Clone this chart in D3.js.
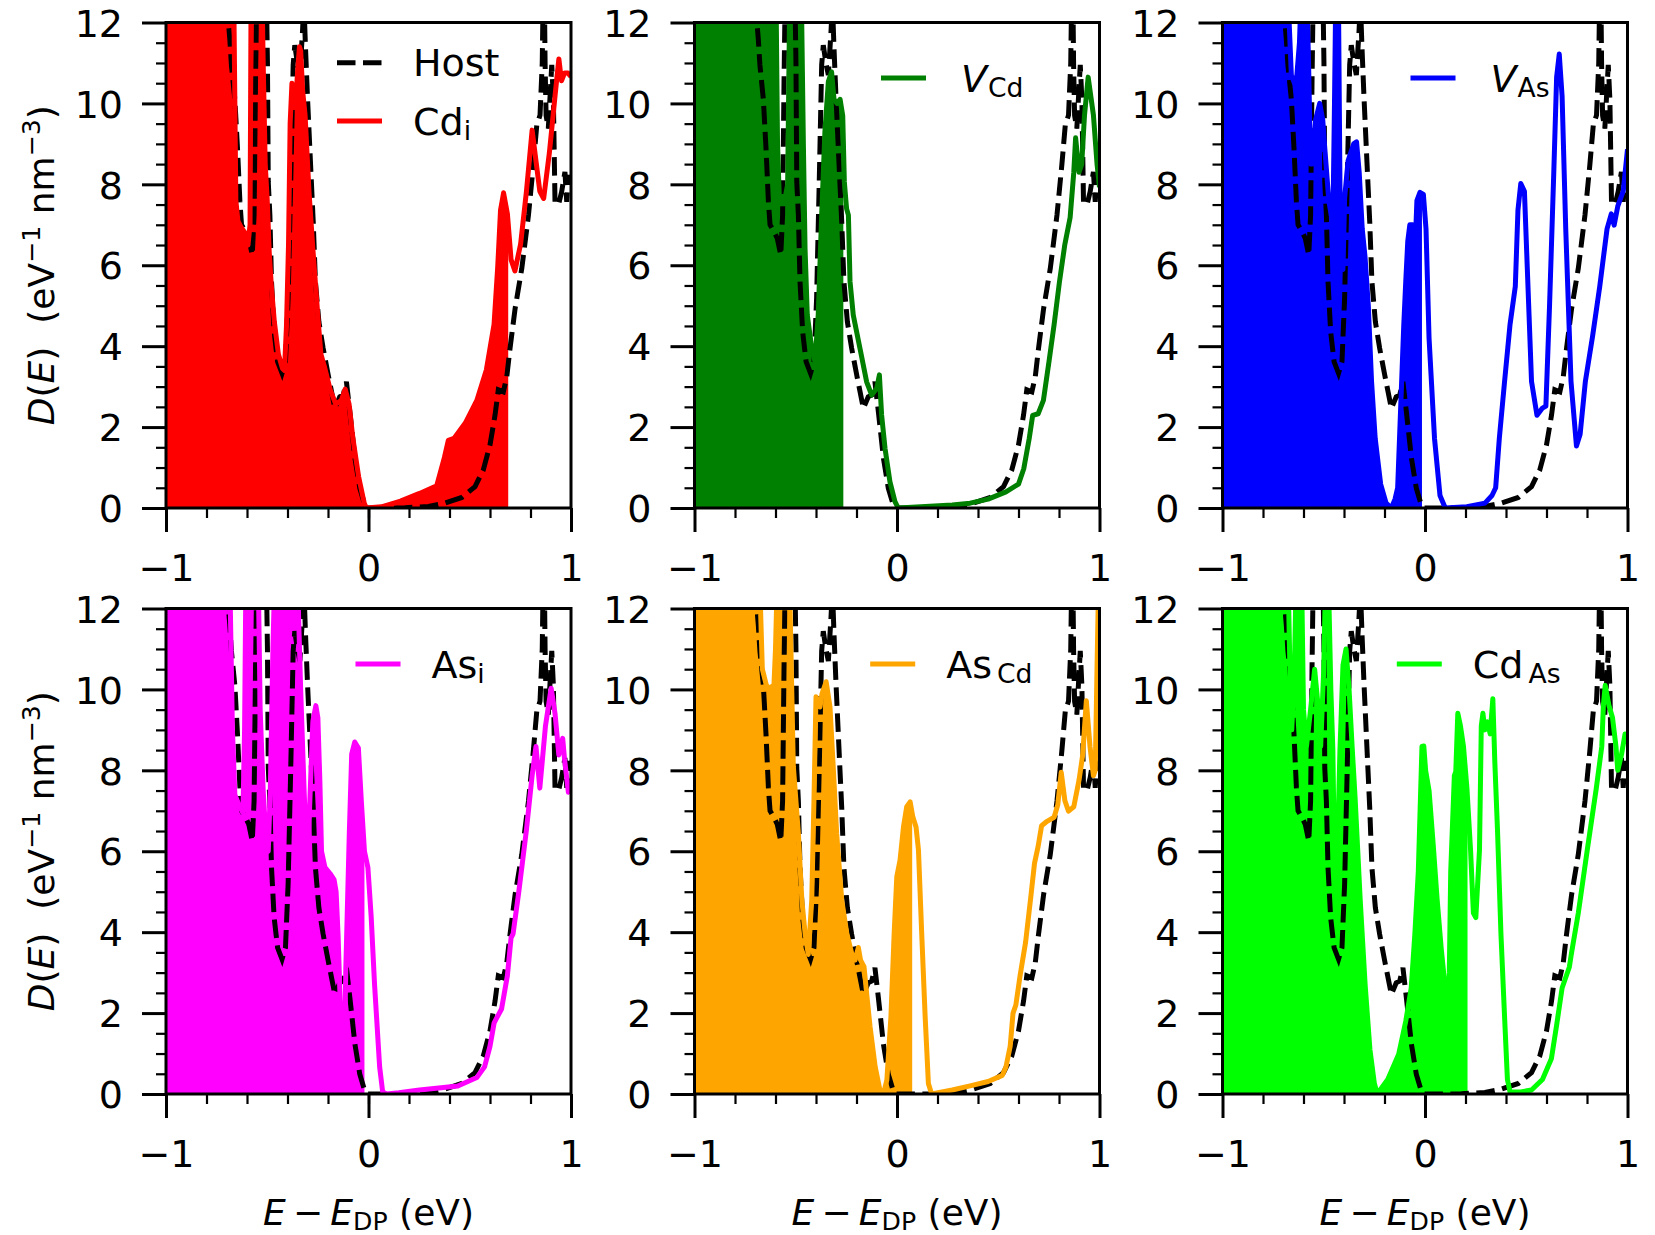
<!DOCTYPE html>
<html>
<head>
<meta charset="utf-8">
<script src="https://cdn.jsdelivr.net/npm/d3@7"></script>
<style>
  body { margin: 0; background: #fff; }
  text { font-family: "DejaVu Sans", sans-serif; fill: #000; }
</style>
</head>
<body>
<script>
// ---- data: [E - E_DP (eV), D(E) (eV^-1 nm^-3)] ----
// (values above 12 sit outside the plotted window and are clipped)
const hostDos = [[-1,22],[-0.75,16],[-0.71,13],[-0.695,12.2],[-0.685,11.6],[-0.677,10.95],[-0.66,10.1],[-0.647,8.9],[-0.635,7.57],[-0.627,7.0],[-0.603,6.79],[-0.591,6.66],[-0.574,6.25],[-0.565,7.24],[-0.558,10.5],[-0.55,13.5],[-0.53,14],[-0.505,13],[-0.499,11],[-0.495,8.06],[-0.487,7.24],[-0.479,5.6],[-0.466,4.36],[-0.449,3.62],[-0.427,3.33],[-0.41,3.62],[-0.397,5.18],[-0.384,8.06],[-0.372,10.95],[-0.364,11.44],[-0.352,11.03],[-0.339,10.7],[-0.326,11.77],[-0.319,12.5],[-0.311,11.36],[-0.301,10.12],[-0.286,8.48],[-0.273,7.08],[-0.262,5.59],[-0.245,4.6],[-0.224,3.95],[-0.199,3.29],[-0.166,2.46],[-0.142,2.75],[-0.125,2.79],[-0.109,3.12],[-0.092,2.38],[-0.067,1.23],[-0.043,0.49],[-0.021,0.12],[-0.002,0],[0.1,0],[0.18,0.005],[0.296,0.04],[0.378,0.12],[0.461,0.26],[0.526,0.53],[0.567,0.94],[0.6,1.56],[0.625,2.3],[0.641,2.92],[0.666,2.87],[0.683,3.25],[0.699,3.95],[0.724,4.93],[0.757,5.92],[0.79,7.24],[0.814,8.48],[0.831,9.46],[0.847,9.71],[0.858,11],[0.866,14],[0.872,11],[0.877,9.7],[0.888,9.38],[0.905,10.95],[0.913,10.1],[0.921,7.57],[0.938,7.49],[0.954,7.82],[0.97,8.31],[0.979,7.57],[0.987,8.23],[1.0,7.9]];

const cdiDos = [[-1,22],[-0.68,15],[-0.665,12.5],[-0.655,7.6],[-0.645,7.1],[-0.63,6.95],[-0.61,6.8],[-0.595,6.5],[-0.585,7.0],[-0.58,12.5],[-0.575,14],[-0.54,14],[-0.525,12.5],[-0.52,11.0],[-0.51,8.5],[-0.5,7.6],[-0.49,6.3],[-0.48,5.5],[-0.465,4.6],[-0.445,3.8],[-0.425,3.45],[-0.415,3.4],[-0.405,4.5],[-0.395,6.5],[-0.387,9.5],[-0.378,10.5],[-0.37,10.3],[-0.36,10.0],[-0.35,10.8],[-0.341,11.4],[-0.335,11.3],[-0.325,10.3],[-0.313,9.7],[-0.294,7.83],[-0.275,6.42],[-0.247,4.54],[-0.235,3.8],[-0.218,3.5],[-0.19,2.94],[-0.162,2.57],[-0.134,2.66],[-0.115,2.94],[-0.096,2.57],[-0.077,1.72],[-0.049,0.78],[-0.021,0.12],[-0.011,0],[0.064,0.03],[0.158,0.17],[0.252,0.36],[0.337,0.55],[0.375,1.25],[0.394,1.67],[0.422,1.72],[0.478,2.1],[0.535,2.66],[0.582,3.41],[0.62,4.54],[0.638,5.95],[0.652,7.36],[0.667,7.79],[0.686,7.27],[0.704,6.14],[0.723,5.86],[0.751,6.52],[0.78,7.83],[0.808,9.34],[0.827,8.58],[0.846,7.83],[0.865,7.65],[0.893,8.77],[0.921,10.18],[0.94,11.1],[0.953,10.56],[0.968,10.75],[0.985,10.75],[1.0,10.66]];

const vcdDos = [[-1,22],[-0.7,16],[-0.6,13],[-0.597,12.5],[-0.59,9],[-0.581,7.65],[-0.565,7.7],[-0.553,7.65],[-0.54,8.0],[-0.53,12.5],[-0.528,13],[-0.475,13],[-0.471,12.2],[-0.462,8.9],[-0.454,6.4],[-0.443,4.77],[-0.421,3.95],[-0.405,3.62],[-0.389,4.77],[-0.372,7.24],[-0.356,9.3],[-0.339,10.54],[-0.323,10.78],[-0.311,10.1],[-0.296,10.0],[-0.281,10.1],[-0.268,9.7],[-0.26,8.06],[-0.249,7.4],[-0.24,7.24],[-0.232,5.6],[-0.216,4.77],[-0.183,3.95],[-0.15,3.12],[-0.125,2.79],[-0.1,2.96],[-0.087,3.29],[-0.076,2.3],[-0.059,1.47],[-0.035,0.65],[-0.01,0.16],[0.006,0],[0.185,0.05],[0.273,0.075],[0.361,0.12],[0.45,0.22],[0.538,0.4],[0.6,0.59],[0.626,0.97],[0.653,1.72],[0.67,2.29],[0.697,2.33],[0.723,2.66],[0.75,3.6],[0.776,4.54],[0.802,5.58],[0.829,6.52],[0.855,7.18],[0.873,8.3],[0.882,9.15],[0.899,8.3],[0.912,8.49],[0.926,9.71],[0.944,10.65],[0.97,9.71],[0.988,8.49],[1.0,7.93]];

const vasDos = [[-1,22],[-0.72,18],[-0.7,14],[-0.675,12.5],[-0.66,10.7],[-0.645,10.5],[-0.635,10.56],[-0.62,11.5],[-0.61,13],[-0.585,13],[-0.575,11],[-0.565,8.5],[-0.556,8.5],[-0.54,9.6],[-0.52,10.0],[-0.505,9.6],[-0.495,8.9],[-0.475,7.6],[-0.455,7.0],[-0.447,10],[-0.44,13],[-0.428,13],[-0.42,8],[-0.414,5.95],[-0.405,5.9],[-0.397,7.65],[-0.38,8.58],[-0.352,9.0],[-0.338,9.05],[-0.325,8.3],[-0.31,6.9],[-0.296,6.2],[-0.28,5.0],[-0.264,3.13],[-0.246,1.72],[-0.219,0.59],[-0.192,0.12],[-0.166,0],[-0.148,0.22],[-0.135,0.5],[-0.12,2.5],[-0.105,4.5],[-0.095,5.6],[-0.085,6.6],[-0.075,7.0],[-0.06,7.0],[-0.052,6.0],[-0.04,7.6],[-0.025,7.8],[-0.008,7.75],[0.005,6.9],[0.02,4.2],[0.047,1.72],[0.074,0.31],[0.1,0],[0.207,0.03],[0.296,0.12],[0.331,0.31],[0.349,0.5],[0.367,1.72],[0.393,3.13],[0.42,4.54],[0.446,5.48],[0.459,7.36],[0.473,8.02],[0.491,7.83],[0.505,5.95],[0.526,3.13],[0.553,2.29],[0.58,2.47],[0.597,2.52],[0.615,5.0],[0.636,8.3],[0.65,10.65],[0.663,11.22],[0.677,10.18],[0.695,6.9],[0.721,3.13],[0.748,1.53],[0.766,1.82],[0.792,3.13],[0.828,4.26],[0.863,5.48],[0.899,6.9],[0.92,7.27],[0.934,6.99],[0.952,7.46],[0.979,7.83],[1.0,8.87]];

const asiDos = [[-1,22],[-0.7,15],[-0.684,12.5],[-0.672,9.0],[-0.66,7.4],[-0.643,7.18],[-0.62,6.95],[-0.612,9],[-0.605,13],[-0.545,13],[-0.535,9.5],[-0.52,7.5],[-0.505,6.2],[-0.495,6.0],[-0.485,7.5],[-0.472,11],[-0.462,13],[-0.352,13],[-0.335,10],[-0.318,7.5],[-0.302,5.5],[-0.29,7.2],[-0.275,9.2],[-0.26,9.6],[-0.25,9.3],[-0.24,7.7],[-0.232,6.0],[-0.215,5.6],[-0.19,5.45],[-0.17,5.3],[-0.16,5.0],[-0.15,3.9],[-0.14,2.3],[-0.128,0.7],[-0.12,0.8],[-0.112,3.1],[-0.095,6.4],[-0.083,8.4],[-0.068,8.7],[-0.05,8.55],[-0.035,7.2],[-0.02,6.0],[-0.003,5.6],[0.013,4.4],[0.03,2.7],[0.055,0.67],[0.07,0.05],[0.09,0],[0.15,0.03],[0.252,0.1],[0.441,0.2],[0.535,0.41],[0.573,0.67],[0.6,1.18],[0.62,1.75],[0.63,1.85],[0.657,2.1],[0.686,2.93],[0.704,3.86],[0.714,3.96],[0.742,4.99],[0.78,6.53],[0.808,7.87],[0.827,8.59],[0.846,7.56],[0.874,9.1],[0.902,10.03],[0.921,9.41],[0.94,8.38],[0.959,8.79],[0.968,8.28],[0.987,7.46],[1.0,7.76]];

const ascdDos = [[-1,22],[-0.7,15],[-0.677,12.5],[-0.665,10.5],[-0.645,10.1],[-0.625,10.0],[-0.619,10.07],[-0.612,9.6],[-0.6,11],[-0.59,13],[-0.535,13],[-0.528,12],[-0.512,8.1],[-0.487,6.44],[-0.47,4.8],[-0.454,3.97],[-0.438,3.45],[-0.421,4.8],[-0.41,7.27],[-0.4,9.82],[-0.38,9.57],[-0.37,9.9],[-0.35,10.19],[-0.331,9.57],[-0.315,8.09],[-0.298,6.44],[-0.273,4.8],[-0.248,3.97],[-0.224,3.48],[-0.207,3.31],[-0.191,3.62],[-0.18,3.31],[-0.163,3.15],[-0.15,2.49],[-0.133,1.66],[-0.108,0.68],[-0.083,0.06],[-0.067,0],[-0.05,0.35],[-0.03,1.91],[-0.014,3.97],[-0.001,5.37],[0.015,5.78],[0.032,6.6],[0.048,7.1],[0.065,7.22],[0.078,6.85],[0.094,6.6],[0.106,6.03],[0.122,3.97],[0.139,1.91],[0.155,0.26],[0.171,0],[0.273,0.1],[0.361,0.2],[0.45,0.31],[0.52,0.46],[0.538,0.67],[0.559,1.18],[0.573,2.0],[0.587,2.2],[0.608,2.93],[0.635,3.75],[0.661,4.88],[0.679,5.7],[0.697,6.12],[0.714,6.63],[0.741,6.74],[0.776,6.84],[0.794,7.15],[0.811,7.95],[0.829,7.25],[0.847,6.99],[0.873,7.1],[0.899,7.76],[0.917,8.38],[0.935,9.72],[0.953,8.59],[0.97,7.87],[0.979,8.0],[0.988,10.6],[0.997,13],[1.0,14]];

const cdasDos = [[-1,22],[-0.7,15],[-0.675,12.5],[-0.665,10],[-0.658,9.0],[-0.645,10.5],[-0.635,13],[-0.61,13],[-0.6,9.5],[-0.585,8.6],[-0.565,9.5],[-0.545,10.5],[-0.53,9.7],[-0.515,8.6],[-0.5,10.5],[-0.49,13],[-0.478,13],[-0.465,10.0],[-0.455,8.5],[-0.445,5.0],[-0.435,5.5],[-0.42,8.5],[-0.405,10.6],[-0.39,11.0],[-0.375,10.0],[-0.36,8.6],[-0.345,7.3],[-0.32,4.8],[-0.296,2.73],[-0.272,1.1],[-0.25,0.26],[-0.236,0],[-0.184,0.36],[-0.13,0.98],[-0.095,1.8],[-0.068,2.62],[-0.05,3.96],[-0.033,5.5],[-0.015,8.59],[-0.006,8.6],[0.003,8.0],[0.02,7.5],[0.04,6.2],[0.06,4.8],[0.08,3.6],[0.1,2.6],[0.113,2.1],[0.12,3.0],[0.127,5.5],[0.145,7.87],[0.152,7.97],[0.162,9.41],[0.175,9.1],[0.19,8.59],[0.207,7.56],[0.225,6.02],[0.239,4.47],[0.251,4.36],[0.269,6.02],[0.278,9.1],[0.286,9.41],[0.295,9.0],[0.308,9.2],[0.322,8.9],[0.335,9.77],[0.345,8.18],[0.358,6.53],[0.375,3.96],[0.393,1.9],[0.407,0.36],[0.42,0.05],[0.473,0.05],[0.526,0.1],[0.58,0.36],[0.624,0.87],[0.65,1.7],[0.677,2.62],[0.713,3.14],[0.722,3.44],[0.757,4.47],[0.801,6.02],[0.846,7.56],[0.873,8.59],[0.881,9.61],[0.89,10.1],[0.908,9.61],[0.926,9.3],[0.943,8.59],[0.952,8.0],[0.97,8.38],[0.988,8.9],[1.0,8.8]];

// Fermi level of each defect (fill runs from -1 up to here)
const fermiLevels = [0.69, -0.265, -0.015, -0.02, 0.075, 0.21];

// legend labels: pieces of text, "it" = italic, "sub" = subscript
const defectLabels = [
    [{t: "Cd"}, {t: "i", sub: true}],
    [{t: "V", it: true}, {t: "Cd", sub: true, dx: 1}],
    [{t: "V", it: true}, {t: "As", sub: true, dx: 1}],
    [{t: "As"}, {t: "i", sub: true}],
    [{t: "As"}, {t: "Cd", sub: true, dx: 5}],
    [{t: "Cd"}, {t: "As", sub: true, dx: 5}]
];
const hostLabel = "Host";
const xTicks = [-1, 0, 1];
const yTicks = [0, 2, 4, 6, 8, 10, 12];

// ---- layout ----
const panelW = 405, panelH = 485.5;
const colX = [166, 694.5, 1222.5];
const rowY = [22.5, 608.5];
const fontSize = 38;
const labelSize = 36;
const lw = 5;
const dash = "18.5,7.5";

const panels = [
    {data: cdiDos,  color: "#ff0000", legX: 171,   legY: 98.6, host: true},
    {data: vcdDos,  color: "#008000", legX: 186.5, legY: 55.5},
    {data: vasDos,  color: "#0000ff", legX: 188,   legY: 55.5},
    {data: asiDos,  color: "#ff00ff", legX: 189.5, legY: 55.5},
    {data: ascdDos, color: "#ffa500", legX: 175.7, legY: 55.5},
    {data: cdasDos, color: "#00ff00", legX: 174.3, legY: 55.5}
];

const svg = d3.select("body").append("svg")
    .attr("width", 1655)
    .attr("height", 1235);

const xScale = d3.scaleLinear().domain([-1, 1]).range([0, panelW]);
const yScale = d3.scaleLinear().domain([0, 12]).range([panelH, 0]);

const fmtTick = d => d < 0 ? "\u2212" + Math.abs(d) : String(d);

function richText(sel, parts, size) {
    let shift = 0;
    parts.forEach(function(p) {
        const ts = sel.append("tspan").text(p.t);
        if (p.it) ts.style("font-style", "italic");
        let target = 0;
        if (p.sub) { target = size * 0.15; ts.style("font-size", (size * 0.7) + "px"); }
        if (p.sup) { target = -size * 0.38; ts.style("font-size", (size * 0.7) + "px"); }
        if (target - shift !== 0) ts.attr("dy", target - shift);
        if (p.dx) ts.attr("dx", p.dx);
        shift = target;
    });
}

// interpolated fill region below the curve up to the Fermi level
function fillPart(pts, ef) {
    const out = [];
    for (let i = 0; i < pts.length; i++) {
        if (pts[i][0] <= ef) out.push(pts[i]);
        else {
            const a = pts[i - 1], b = pts[i];
            const t = (ef - a[0]) / (b[0] - a[0]);
            out.push([ef, a[1] + t * (b[1] - a[1])]);
            break;
        }
    }
    return out;
}

const line = d3.line()
    .x(d => xScale(d[0]))
    .y(d => yScale(d[1]));
const area = d3.area()
    .x(d => xScale(d[0]))
    .y0(yScale(0))
    .y1(d => yScale(d[1]));

panels.forEach(function(p, i) {
    const col = i % 3, row = Math.floor(i / 3);
    const g = svg.append("g")
        .attr("transform", "translate(" + colX[col] + "," + rowY[row] + ")");

    g.append("clipPath").attr("id", "clip" + i)
        .append("rect").attr("width", panelW).attr("height", panelH);

    const plot = g.append("g").attr("clip-path", "url(#clip" + i + ")");

    plot.append("path")
        .datum(fillPart(p.data, fermiLevels[i]))
        .attr("d", area)
        .style("fill", p.color)
        .style("stroke", "none");

    plot.append("path")
        .datum(hostDos)
        .attr("d", line)
        .style("fill", "none")
        .style("stroke", "#000")
        .style("stroke-width", lw)
        .style("stroke-dasharray", dash);

    plot.append("path")
        .datum(p.data)
        .attr("d", line)
        .style("fill", "none")
        .style("stroke", p.color)
        .style("stroke-width", lw)
        .style("stroke-linejoin", "round");

    // minor ticks
    g.append("g")
        .attr("transform", "translate(0," + panelH + ")")
        .call(d3.axisBottom(xScale).tickValues(d3.range(-0.8, 1, 0.2)).tickSize(10).tickSizeOuter(0).tickFormat(""))
        .call(a => a.select(".domain").remove())
        .selectAll("line").style("stroke-width", 2.2);
    g.append("g")
        .call(d3.axisLeft(yScale).tickValues(d3.range(0.5, 12, 0.5).filter(v => v % 2 !== 0)).tickSize(10).tickSizeOuter(0).tickFormat(""))
        .call(a => a.select(".domain").remove())
        .selectAll("line").style("stroke-width", 2.2);

    // major ticks
    const xa = g.append("g")
        .attr("transform", "translate(0," + panelH + ")")
        .call(d3.axisBottom(xScale).tickValues(xTicks).tickSize(24).tickPadding(22).tickSizeOuter(0).tickFormat(fmtTick));
    xa.select(".domain").remove();
    xa.selectAll("line").style("stroke-width", 3);
    xa.selectAll("text").style("font-size", fontSize + "px").style("font-family", "DejaVu Sans");

    const ya = g.append("g")
        .call(d3.axisLeft(yScale).tickValues(yTicks).tickSize(24).tickPadding(19).tickSizeOuter(0).tickFormat(fmtTick));
    ya.select(".domain").remove();
    ya.selectAll("line").style("stroke-width", 3);
    ya.selectAll("text").style("font-size", fontSize + "px").style("font-family", "DejaVu Sans").attr("dy", "0.36em");

    // frame
    g.append("rect")
        .attr("width", panelW).attr("height", panelH)
        .style("fill", "none").style("stroke", "#000").style("stroke-width", 3);

    // legend
    if (p.host) {
        g.append("line")
            .attr("x1", p.legX).attr("x2", p.legX + 45)
            .attr("y1", 40.3).attr("y2", 40.3)
            .style("stroke", "#000").style("stroke-width", lw)
            .style("stroke-dasharray", dash);
        g.append("text")
            .attr("x", p.legX + 76).attr("y", 40.3 + 13.6)
            .style("font-size", fontSize + "px")
            .text(hostLabel);
    }
    g.append("line")
        .attr("x1", p.legX).attr("x2", p.legX + 45)
        .attr("y1", p.legY).attr("y2", p.legY)
        .style("stroke", p.color).style("stroke-width", lw);
    const lt = g.append("text")
        .attr("x", p.legX + (defectLabels[i][0].it ? 80 : 76))
        .attr("y", p.legY + 13.6)
        .style("font-size", fontSize + "px");
    richText(lt, defectLabels[i], fontSize);

    // axis titles
    if (col === 0) {
        const yl = svg.append("text")
            .attr("transform", "translate(54," + (rowY[row] + panelH / 2) + ") rotate(-90)")
            .attr("text-anchor", "middle")
            .style("font-size", labelSize + "px");
        richText(yl, [{t: "D", it: true}, {t: "("}, {t: "E", it: true}, {t: ")\u00a0\u00a0(eV"},
            {t: "\u22121", sup: true}, {t: "\u00a0nm"}, {t: "\u22123", sup: true}, {t: ")"}], labelSize);
    }
    if (row === 1) {
        const xl = svg.append("text")
            .attr("x", colX[col] + panelW / 2)
            .attr("y", 1225)
            .attr("text-anchor", "middle")
            .style("font-size", labelSize + "px");
        richText(xl, [{t: "E", it: true}, {t: "\u2009\u2212\u2009"}, {t: "E", it: true},
            {t: "DP", sub: true}, {t: " (eV)"}], labelSize);
    }
});
</script>
</body>
</html>
